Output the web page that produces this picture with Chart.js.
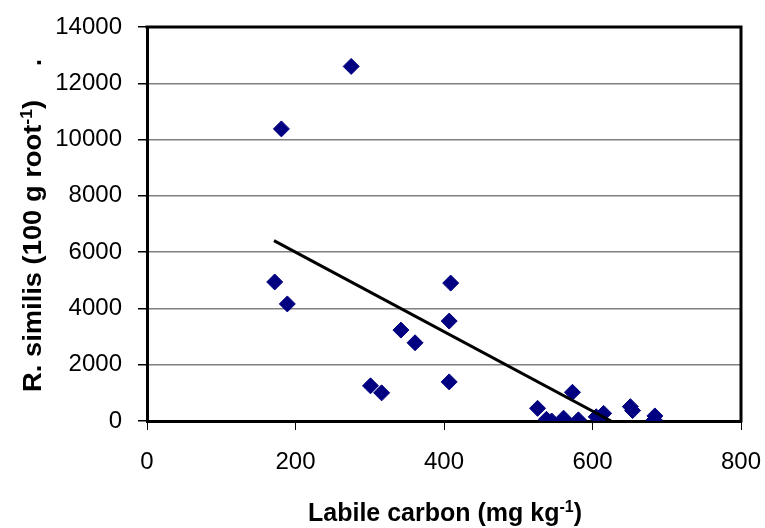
<!DOCTYPE html>
<html>
<head>
<meta charset="utf-8">
<script src="https://cdn.jsdelivr.net/npm/chart.js@4/dist/chart.umd.min.js"></script>
<style>
html,body{margin:0;padding:0;background:#fff;}
#wrap{width:765px;height:528px;}
</style>
</head>
<body>
<div id="wrap"><canvas id="c" width="765" height="528"></canvas></div>
<script>
// Labile carbon (mg kg-1)
const labileCarbon = [275,181,172,189,409,407,342,361,301,316,407,526,538,545,561,573,581,605,615,651,654,684,683];
// R. similis (100 g root-1)
const rSimilis    = [12600,10380,4940,4160,4900,3550,3230,2780,1250,1000,1390,450,60,0,100,1020,40,150,270,510,370,180,40];
// Linear trend line end points
const trendX = [171,625];
const trendY = [6410,0];
const xTicks = [0,200,400,600,800];
const yTicks = [0,2000,4000,6000,8000,10000,12000,14000];

const points = labileCarbon.map((x,i)=>({x:x,y:rSimilis[i]}));
const trend = trendX.map((x,i)=>({x:x,y:trendY[i]}));

const FONT = '"Liberation Sans", Arial, sans-serif';

function drawRich(ctx, parts, size, supSize, raise){
  let x = 0;
  for(const p of parts){
    ctx.font = 'bold ' + (p.sup?supSize:size) + 'px ' + FONT;
    ctx.fillText(p.t, x, p.sup ? -raise : 0);
    x += ctx.measureText(p.t).width;
  }
  return x;
}
function richWidth(ctx, parts, size, supSize){
  let w = 0;
  for(const p of parts){
    ctx.font = 'bold ' + (p.sup?supSize:size) + 'px ' + FONT;
    w += ctx.measureText(p.t).width;
  }
  return w;
}

const decor = {
  id:'decor',
  afterDatasetsDraw(chart){
    const ctx = chart.ctx, a = chart.chartArea;
    ctx.save();
    ctx.strokeStyle = '#000';
    ctx.lineWidth = 3;
    ctx.beginPath();
    ctx.moveTo(a.left - 1.5, a.top);
    ctx.lineTo(a.right, a.top);
    ctx.lineTo(a.right, a.bottom + 1.5);
    ctx.stroke();
    ctx.restore();
  },
  afterDraw(chart){
    const ctx = chart.ctx, a = chart.chartArea;
    ctx.save();
    ctx.fillStyle = '#000';
    ctx.textBaseline = 'alphabetic';
    ctx.textAlign = 'left';
    // X title
    const xParts = [{t:'Labile carbon (mg kg'},{t:'-1',sup:true},{t:')'}];
    const xw = richWidth(ctx, xParts, 25, 16);
    ctx.save();
    ctx.translate(308, 521);
    ctx.scale(274 / xw, 1);
    drawRich(ctx, xParts, 25, 16, 9);
    ctx.restore();
    // Y title
    const yParts = [{t:'R. similis (100 g root'},{t:'-1',sup:true},{t:')'}];
    const yw = richWidth(ctx, yParts, 25, 16);
    ctx.save();
    ctx.translate(41, 392);
    ctx.rotate(-Math.PI/2);
    ctx.save();
    ctx.scale(292 / yw, 1);
    drawRich(ctx, yParts, 25, 16, 9);
    ctx.restore();
    ctx.font = 'bold 25px ' + FONT;
    ctx.fillText('.', 326, 0);
    ctx.restore();
    ctx.restore();
  }
};

new Chart(document.getElementById('c'), {
  type:'scatter',
  data:{
    datasets:[
      {
        type:'line',
        data:trend,
        borderColor:'#000',
        borderWidth:3,
        pointRadius:0,
        fill:false,
        order:0
      },
      {
        data:points,
        backgroundColor:'#000080',
        borderColor:'#000080',
        borderWidth:1,
        pointStyle:'rectRot',
        pointRadius:8,
        pointHoverRadius:8,
        order:1
      }
    ]
  },
  options:{
    responsive:false,
    animation:false,
    devicePixelRatio:1,
    layout:{padding:{left:0,top:27,right:24,bottom:0}},
    plugins:{legend:{display:false},tooltip:{enabled:false}},
    scales:{
      x:{
        type:'linear',
        min:0,max:800,
        afterBuildTicks(s){ s.ticks = xTicks.map(v=>({value:v})); },
        afterFit(s){ s.height = 107; s.paddingLeft = 0; s.paddingRight = 0; },
        grid:{drawOnChartArea:false, drawTicks:true, tickLength:9, tickColor:'#000', lineWidth:1},
        border:{display:true, color:'#000', width:3},
        ticks:{color:'#000', font:{family:FONT, size:24}, padding:18, maxRotation:0,
               callback:(v)=>String(v)}
      },
      y:{
        type:'linear',
        min:0,max:14000,
        afterBuildTicks(s){ s.ticks = yTicks.map(v=>({value:v})); },
        afterFit(s){ s.width = 147; s.paddingTop = 0; s.paddingBottom = 0; },
        grid:{drawOnChartArea:true, color:'#808080', lineWidth:1.5, drawTicks:true, tickLength:9, tickColor:'#000'},
        border:{display:true, color:'#000', width:3},
        ticks:{color:'#000', font:{family:FONT, size:24}, padding:16,
               callback:(v)=>String(v)}
      }
    }
  },
  plugins:[decor]
});
</script>
</body>
</html>
